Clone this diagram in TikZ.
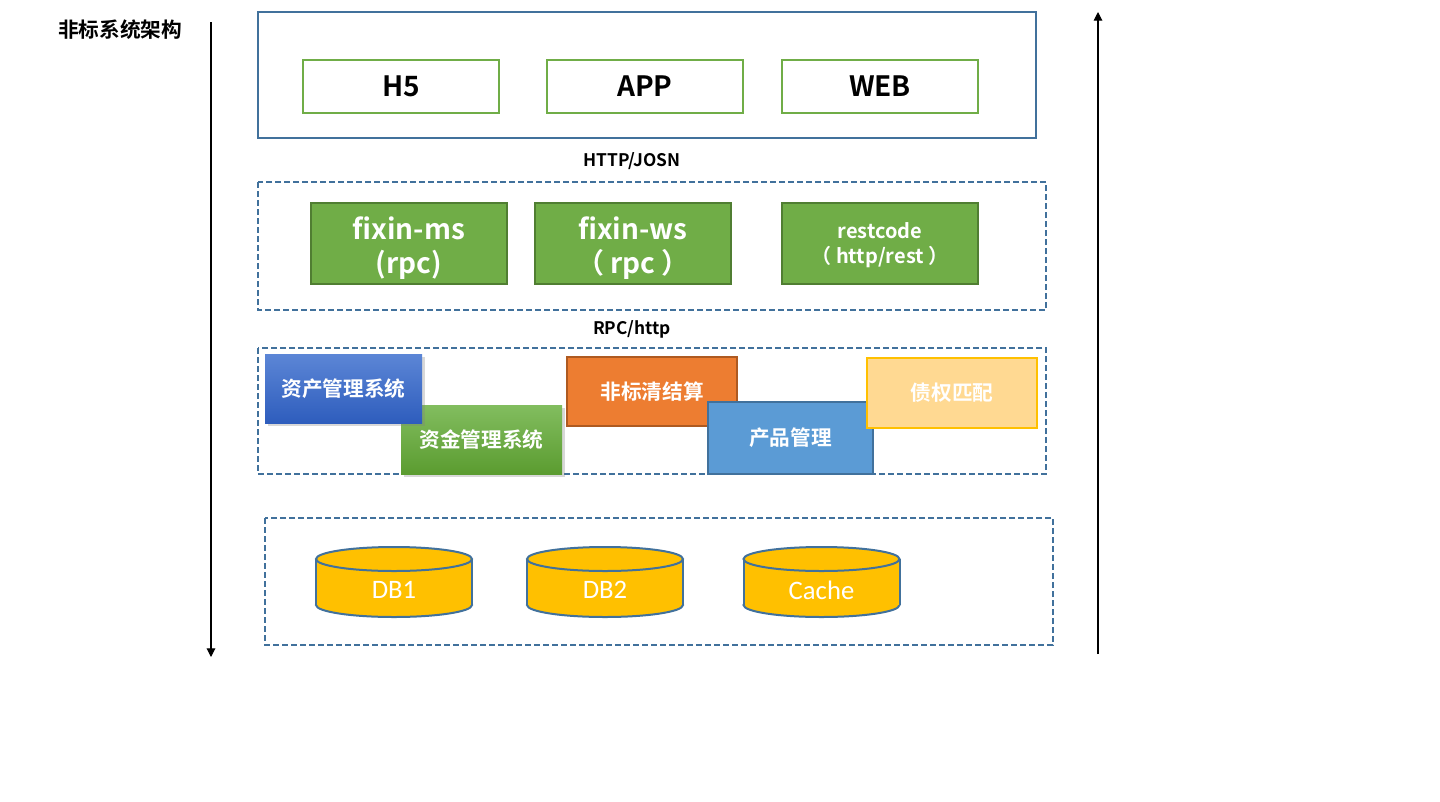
\documentclass[tikz,border=0pt]{standalone}
\usepackage{fontspec}
\setmainfont{Noto Sans CJK SC}[BoldFont={Noto Sans CJK SC Bold}]
\newfontfamily\dbfont{Carlito}
\usepackage{xcolor}
\usepackage{tikz}
\usetikzlibrary{shadows}
\usetikzlibrary{positioning}
\usetikzlibrary{arrows.meta,calc}

\definecolor{frameblue}{HTML}{41719C}
\definecolor{leafgreen}{HTML}{70AD47}
\definecolor{darkgreen}{HTML}{507E32}
\definecolor{sysorange}{HTML}{ED7D31}
\definecolor{darkorange}{HTML}{AE5A21}
\definecolor{sysblue}{HTML}{5B9BD5}
\definecolor{paleyellow}{HTML}{FFD992}
\definecolor{dbyellow}{HTML}{FFC000}
\definecolor{assettop}{HTML}{5C86D6}
\definecolor{assetbot}{HTML}{2E5DBD}
\definecolor{fundtop}{HTML}{82BD5F}
\definecolor{fundbot}{HTML}{5B9C30}

\newcommand{\lowline}[2][3.5pt]{\raisebox{-#1}[\height][\depth]{#2}}

\begin{document}
\begin{tikzpicture}[x=0.75pt, y=-0.75pt, auto, swap,
  frame/.style={draw=frameblue, line width=1.5pt},
  dashframe/.style={draw=frameblue, line width=1.2pt, dash pattern=on 4.5pt off 2.25pt},
  clientbox/.style={draw=leafgreen, line width=1.5pt, fill=white, inner sep=0pt,
    minimum width=147pt, minimum height=39.75pt, font=\fontsize{21}{25}\selectfont\bfseries},
  svcbox/.style={draw=darkgreen, line width=1.5pt, fill=leafgreen, text=white, inner sep=0pt,
    minimum width=147pt, minimum height=60.75pt, align=center},
  sysbox/.style={inner sep=0pt, text=white, minimum height=51.75pt,
    font=\fontsize{15.5}{18}\selectfont\bfseries},
  proto/.style={font=\fontsize{13}{15}\selectfont\bfseries},
  dbline/.style={draw=frameblue, line width=1.5pt},
  dbtext/.style={text=white, font=\dbfont\fontsize{20}{24}\selectfont},
  flow/.style={draw=black, line width=0.8pt, -{Triangle[width=6.5pt, length=6.5pt]}}]

 \useasboundingbox (0,0) rectangle (1440,801);
 \fill[white] (0,0) rectangle (1440,801);

 \node[font=\fontsize{15.5}{18}\selectfont\bfseries] (title) at (120,30) {非标系统架构};

 % clients
 \draw[frame] (258,12) rectangle (1036,138);
 \foreach \x/\name/\n in {401/H5/h5, 645/APP/app, 880/WEB/web}
   \node[clientbox] (\n) at (\x,86.5) {\name};

 \node[proto] (http) at (632,161) {HTTP/JOSN};

 %level 2
 \draw[dashframe] (258,182) rectangle (1046,310);
 \node[svcbox, font=\fontsize{21}{25}\selectfont\bfseries] (ms) at (409,243.5) {\lowline{fixin-ms}\\\lowline{(rpc)}};
 \node[svcbox, font=\fontsize{21}{25}\selectfont\bfseries] (ws) at (633,243.5) {\lowline{fixin-ws}\\\lowline{（ rpc ）}};
 \node[svcbox, font=\fontsize{15}{19}\selectfont\bfseries] (rest) at (880,243.5) {\lowline[1pt]{restcode}\\\lowline[1pt]{（ http/rest ）}};

 \node[proto] (rpc) at (632,329) {RPC/http};

 %level 3
 \draw[dashframe] (258,348) rectangle (1046,474);
 \node[sysbox, minimum width=120.75pt, top color=fundtop, bottom color=fundbot,
   drop shadow={shadow xshift=2pt, shadow yshift=-2.5pt, opacity=0.3}] (fund) at (481.5,439.5) {资金管理系统};
 \node[sysbox, minimum width=117.75pt, top color=assettop, bottom color=assetbot,
   drop shadow={shadow xshift=2pt, shadow yshift=-2.5pt, opacity=0.3}] (asset) at (343.5,388.5) {资产管理系统};
 \node[sysbox, minimum width=127.5pt, fill=sysorange, draw=darkorange, line width=1.5pt] (clear) at (652,391.5) {非标清结算};
 \node[sysbox, minimum width=123.75pt, minimum height=54pt, fill=sysblue, draw=frameblue, line width=1.5pt] (prod) at (790.5,438) {产品管理};
 \node[sysbox, minimum width=127.5pt, minimum height=52.5pt, fill=paleyellow, draw=dbyellow, line width=1pt] (match) at (952,393) {债权匹配};

 %level 4
 \draw[dashframe] (265,518) rectangle (1053,645);
 \foreach \cx/\name/\n in {394/DB1/db1, 605/DB2/db2, 821.5/Cache/cache} {
   \draw[dbline, fill=dbyellow] (\cx,605) ellipse [x radius=58.5pt, y radius=9pt];
   \fill[dbyellow] (\cx-78,559) rectangle (\cx+78,605);
   \draw[dbline] (\cx-78,559) -- (\cx-78,605) (\cx+78,559) -- (\cx+78,605);
   \draw[dbline, fill=dbyellow] (\cx,559) ellipse [x radius=58.5pt, y radius=9pt];
   \node[dbtext] (\n) at (\cx,590) {\name};
 }

 % lines
 \coordinate (downtop) at (211,22);
 \coordinate (downend) at (211,657);
 \coordinate (upbottom) at (1098,654);
 \coordinate (uptop) at (1098,12);
 \path[flow] (downtop) -- (downend);
 \path[flow] (upbottom) -- (uptop);

\end{tikzpicture}
\end{document}
